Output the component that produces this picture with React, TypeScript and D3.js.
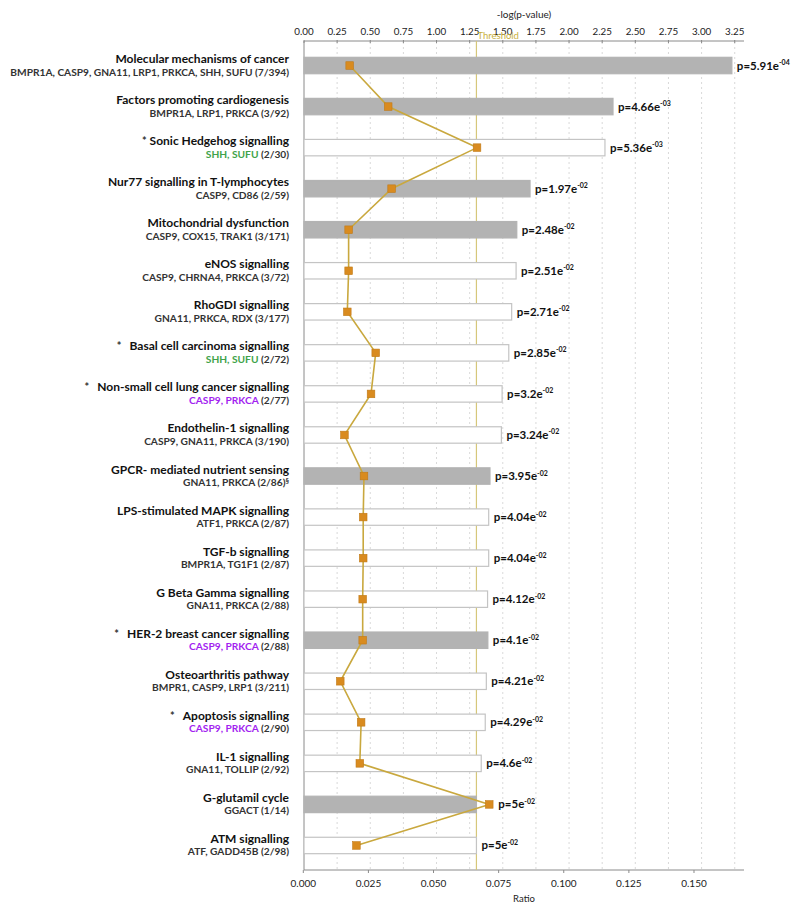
import React from 'react'
import * as d3 from 'd3'

// pathway names, gene lists and counts
const pathways = [
  'Molecular mechanisms of cancer',
  'Factors promoting cardiogenesis',
  'Sonic Hedgehog signalling',
  'Nur77 signalling in T-lymphocytes',
  'Mitochondrial dysfunction',
  'eNOS signalling',
  'RhoGDI signalling',
  'Basal cell carcinoma signalling',
  'Non-small cell lung cancer signalling',
  'Endothelin-1 signalling',
  'GPCR- mediated nutrient sensing',
  'LPS-stimulated MAPK signalling',
  'TGF-b signalling',
  'G Beta Gamma signalling',
  'HER-2 breast cancer signalling',
  'Osteoarthritis pathway',
  'Apoptosis signalling',
  'IL-1 signalling',
  'G-glutamil cycle',
  'ATM signalling',
]
const genes = [
  'BMPR1A, CASP9, GNA11, LRP1, PRKCA, SHH, SUFU',
  'BMPR1A, LRP1, PRKCA',
  'SHH, SUFU',
  'CASP9, CD86',
  'CASP9, COX15, TRAK1',
  'CASP9, CHRNA4, PRKCA',
  'GNA11, PRKCA, RDX',
  'SHH, SUFU',
  'CASP9, PRKCA',
  'CASP9, GNA11, PRKCA',
  'GNA11, PRKCA',
  'ATF1, PRKCA',
  'BMPR1A, TG1F1',
  'GNA11, PRKCA',
  'CASP9, PRKCA',
  'BMPR1, CASP9, LRP1',
  'CASP9, PRKCA',
  'GNA11, TOLLIP',
  'GGACT',
  'ATF, GADD45B',
]
const geneGroup = ['', '', 'green', '', '', '', '', 'green', 'purple', '', '', '', '', '', 'purple', '', 'purple', '', '', '']
const starred = [false, false, true, false, false, false, false, true, true, false, false, false, false, false, true, false, true, false, false, false]
const counts = ['7/394', '3/92', '2/30', '2/59', '3/171', '3/72', '3/177', '2/72', '2/77', '3/190', '2/86', '2/87', '2/87', '2/88', '2/88', '3/211', '2/90', '2/92', '1/14', '2/98']
// ratio (bottom axis) as plotted
const ratios = [0.0178, 0.0326, 0.0667, 0.0339, 0.0174, 0.0174, 0.0169, 0.0278, 0.026, 0.0158, 0.0233, 0.023, 0.023, 0.0228, 0.0228, 0.0142, 0.0222, 0.0217, 0.0714, 0.0204]
const pMantissa = ['5.91', '4.66', '5.36', '1.97', '2.48', '2.51', '2.71', '2.85', '3.2', '3.24', '3.95', '4.04', '4.04', '4.12', '4.1', '4.21', '4.29', '4.6', '5', '5']
const pExponent = ['-04', '-03', '-03', '-02', '-02', '-02', '-02', '-02', '-02', '-02', '-02', '-02', '-02', '-02', '-02', '-02', '-02', '-02', '-02', '-02']
const filledBar = [true, true, false, true, true, false, false, false, false, false, true, false, false, false, true, false, false, false, true, false]
const logTicks = ['0.00', '0.25', '0.50', '0.75', '1.00', '1.25', '1.50', '1.75', '2.00', '2.25', '2.50', '2.75', '3.00', '3.25']
const ratioTicks = ['0.000', '0.025', '0.050', '0.075', '0.100', '0.125', '0.150']
const threshold = 0.05

const W = 800
const H = 910
const left = 304
const right = 744
const top = 42
const bottom = 870
const font = 'Lato, "Open Sans", sans-serif'
const geneColors: Record<string, string> = { green: '#3fa34a', purple: '#a31ff0' }

export default function App() {
  const xLog = d3.scaleLinear().domain([0, 3.32]).range([left, right])
  const xRatio = d3.scaleLinear().domain([0, 0.1692]).range([left - 0.7, right])
  const y = d3.scaleBand<number>()
    .domain(d3.range(pathways.length))
    .range([45, 866])
    .paddingInner(0.6)
    .paddingOuter(0.3)

  const rows = pathways.map((name, i) => {
    const p = +pMantissa[i] * Math.pow(10, +pExponent[i])
    return {
      i,
      name,
      logp: -Math.log10(p),
      ratio: ratios[i],
      cy: (y(i) as number) + y.bandwidth() / 2,
    }
  })

  const line = d3.line<typeof rows[0]>()
    .x(d => xRatio(d.ratio))
    .y(d => d.cy)

  const thrX = xLog(-Math.log10(threshold))

  return (
    <svg width={W} height={H} style={{ position: 'absolute', left: 0, top: 0, background: '#fff' }} fontFamily={font}>
      {/* grid */}
      {logTicks.map((t, k) => k > 0 && (
        <line key={t} x1={xLog(+t)} x2={xLog(+t)} y1={top} y2={bottom}
          stroke="#cfcfcf" strokeWidth={0.8} strokeDasharray="2,3" />
      ))}

      {/* top axis */}
      <line x1={left} x2={right} y1={top - 1} y2={top - 1} stroke="#8a8a8a" strokeWidth={1} />
      {logTicks.map(t => (
        <g key={t}>
          <line x1={xLog(+t)} x2={xLog(+t)} y1={top - 2} y2={top + 1} stroke="#8a8a8a" />
          <text x={xLog(+t)} y={35} fontSize={9.8} textAnchor="middle" fill="#222">{t}</text>
        </g>
      ))}
      <text x={(left + right) / 2} y={18} fontSize={10} textAnchor="middle" fill="#222">-log(p-value)</text>

      {/* bottom axis */}
      <line x1={left} x2={right} y1={bottom} y2={bottom} stroke="#8a8a8a" strokeWidth={1} />
      {ratioTicks.map(t => (
        <g key={t}>
          <line x1={xRatio(+t)} x2={xRatio(+t)} y1={bottom} y2={bottom + 3} stroke="#8a8a8a" />
          <text x={xRatio(+t)} y={887} fontSize={10} textAnchor="middle" fill="#222">{t}</text>
        </g>
      ))}
      <text x={(left + right) / 2} y={902} fontSize={9.5} textAnchor="middle" fill="#222">Ratio</text>

      {/* left axis */}
      <line x1={left} x2={left} y1={top - 1} y2={bottom} stroke="#8a8a8a" strokeWidth={1} />

      {/* threshold */}
      <line x1={thrX} x2={thrX} y1={top - 1} y2={bottom} stroke="#d6c77a" strokeWidth={1.2} />
      <text x={thrX + 1} y={39} fontSize={9.5} fill="#c9b13c">Threshold</text>

      {/* bars */}
      {rows.map(d => (
        <rect key={d.i} x={left} y={y(d.i)} width={xLog(d.logp) - left} height={y.bandwidth()}
          fill={filledBar[d.i] ? '#b3b3b3' : '#fff'}
          stroke={filledBar[d.i] ? '#b3b3b3' : '#c4c4c4'} strokeWidth={1.2} />
      ))}

      {/* ratio line */}
      <path d={line(rows) || ''} fill="none" stroke="#c9a83e" strokeWidth={1.6} />
      {rows.map(d => (
        <rect key={d.i} x={xRatio(d.ratio) - 3.8} y={d.cy - 3.8} width={7.6} height={7.6}
          fill="#d98b1f" stroke="#c07a18" strokeWidth={0.6} />
      ))}

      {/* p-value labels */}
      {rows.map(d => {
        const x0 = Math.max(xLog(d.logp), xRatio(d.ratio) + 4) + 5
        return (
          <text key={d.i} x={x0} y={d.cy + 4} fontSize={11.5} fontWeight="bold" fill="#111">
            p={pMantissa[d.i]}e
            <tspan dy={-4.5} fontSize={7}>{pExponent[d.i]}</tspan>
          </text>
        )
      })}

      {/* row labels */}
      {rows.map(d => (
        <g key={d.i}>
          <text x={289} y={d.cy - 2.5} fontSize={12} fontWeight="bold" textAnchor="end" fill="#111">
            {starred[d.i] && <tspan fontSize={11} fill="#333">*</tspan>}
            <tspan dx={starred[d.i] ? (d.i === 2 ? 3 : 8) : 0}>{d.name}</tspan>
          </text>
          <text x={289} y={d.cy + 10} fontSize={10.2} fontWeight="bold" textAnchor="end" fill="#333">
            <tspan fill={geneGroup[d.i] ? geneColors[geneGroup[d.i]] : '#333'}>{genes[d.i]}</tspan>
            {` (${counts[d.i]})`}
            {d.i === 10 && <tspan fontSize={7} dy={-2}>§</tspan>}
          </text>
        </g>
      ))}
    </svg>
  )
}
